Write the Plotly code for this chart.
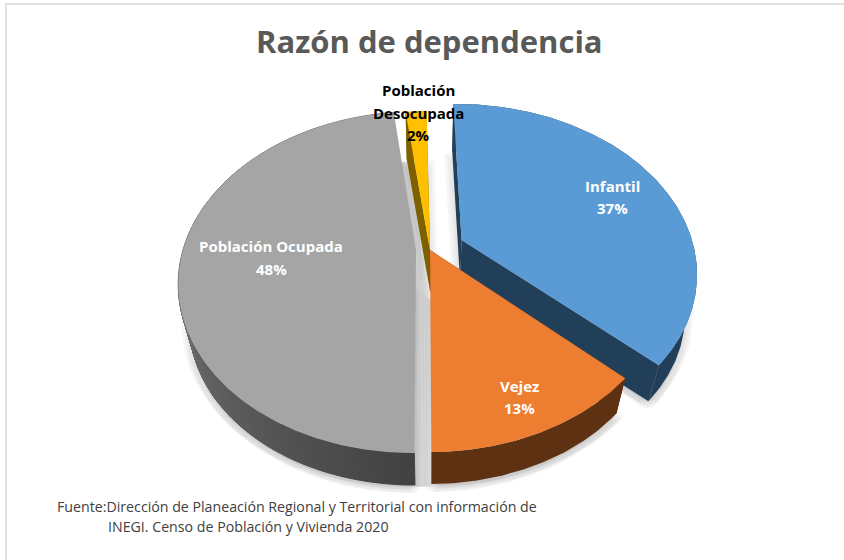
import math
import plotly.graph_objects as go

# Data (shares in %; printed labels are rounded)
categories = ["Infantil", "Vejez", "Población Ocupada", "Población Desocupada"]
values = [37.2, 13.0, 48.1, 1.7]
top_colors = ["#5B9BD5", "#ED7D31", "#A5A5A5", "#FFC000"]
wall_colors = ["#223F59", "#5F3113", "#404040", "#7F6000"]
pull = [0.15, 0.0, 0.06, 0.0]
title = "Razón de dependencia"
source_lines = ["Fuente:Dirección de Planeación Regional y Territorial con información de",
                "INEGI. Censo de Población y Vivienda 2020"]

# Projection of the disc
CX, CY, RX, RY, K = 430.0, 250.0, 233.0, 164.7, 0.185
ROT, Z, D = -1.0, 0.955, 41.0


def project(wx, wy, lower=False):
    s = 1.0 / (1.0 - K * wy)
    sx, sy = RX * wx * s, RY * wy * s
    if lower:
        return CX + sx * Z, CY + sy * Z + D
    return CX + sx, CY + sy


def sector_world(a0, a1, p):
    mid = math.radians((a0 + a1) / 2)
    ax, ay = p * math.sin(mid), -p * math.cos(mid)
    n = max(2, int(abs(a1 - a0)) * 2)
    pts = []
    for i in range(n + 1):
        t = math.radians(a0 + (a1 - a0) * i / n)
        pts.append((ax + math.sin(t), ay - math.cos(t)))
    return (ax, ay), pts


fig = go.Figure()


def poly(points, color, lw=0):
    xs = [q[0] for q in points] + [points[0][0]]
    ys = [q[1] for q in points] + [points[0][1]]
    fig.add_trace(go.Scatter(x=xs, y=ys, mode="lines", fill="toself", fillcolor=color,
                             line=dict(width=lw, color=color), hoverinfo="skip", showlegend=False))


def mix(c0, c1, t):
    return "rgb(" + ",".join(str(int(a + (b - a) * t)) for a, b in zip(c0, c1)) + ")"


sectors = []
angle = ROT
for v, p in zip(values, pull):
    a1 = angle + v * 3.6
    sectors.append(sector_world(angle, a1, p))
    angle = a1

# soft shadows
for idx, (apex, rim) in enumerate(sectors):
    low = [project(*apex, True)] + [project(*q, True) for q in rim]
    offs = [(-8, 2), (8, 2), (-5, 5), (5, 5), (-2, 8), (2, 8), (0, 3)]
    if idx == 2:
        offs += [(11, 2), (13, 2), (15, 2), (17, 2)]
    for dx, dy in offs:
        poly([(x + dx, y + dy) for x, y in low], "rgba(0,0,0,0.035)")

# bodies, back to front
for idx in [0, 3, 2, 1]:
    apex, rim = sectors[idx]
    wall = wall_colors[idx]
    if idx != 2:
        for q in (rim[0], rim[-1]):
            poly([project(*apex), project(*q), project(*q, True), project(*apex, True)], wall)
    if idx == 2:
        for i in range(len(rim) - 1):
            a, b = rim[i], rim[i + 1]
            t = i / (len(rim) - 2)
            col = mix((66, 66, 66), (130, 130, 130), min(1, t * 1.6))
            poly([project(*a), project(*b), project(*b, True), project(*a, True)], col, lw=1)
    else:
        poly([project(*q) for q in rim] + [project(*q, True) for q in reversed(rim)], wall)
    poly([project(*apex)] + [project(*q) for q in rim], top_colors[idx])

ann = []


def label(x, y, text, color, size, bold=True):
    ann.append(dict(x=x, y=y, xref="x", yref="y", text=f"<b>{text}</b>" if bold else text,
                    showarrow=False, xanchor="center", yanchor="middle",
                    font=dict(family="Open Sans", size=size, color=color)))


pct = [f"{round(v)}%" for v in values]
label(612, 186, categories[0], "white", 15)
label(612, 208, pct[0], "white", 15)
label(519, 386, categories[1], "white", 15)
label(519, 408, pct[1], "white", 15)
label(271, 246, categories[2], "white", 15)
label(271, 269, pct[2], "white", 15)
first, second = categories[3].split(" ")
label(418, 90, first, "black", 15)
label(418, 113, second, "black", 15)
label(418, 135, pct[3], "black", 15)
label(429, 41, title, "#595959", 31)
ann.append(dict(x=55, y=506, xref="x", yref="y", text=source_lines[0], showarrow=False, xanchor="left",
                font=dict(family="Open Sans", size=14.2, color="#404040")))
ann.append(dict(x=106, y=526, xref="x", yref="y", text=source_lines[1], showarrow=False, xanchor="left",
                font=dict(family="Open Sans", size=14.2, color="#404040")))

# Thin frame at the top and left of the picture
frame = [dict(type="line", xref="x", yref="y", x0=5, x1=844, y0=4, y1=4, line=dict(color="#E0E0E0", width=2)),
         dict(type="line", xref="x", yref="y", x0=6, x1=6, y0=3, y1=560, line=dict(color="#E0E0E0", width=2))]

fig.update_layout(width=844, height=560, margin=dict(l=0, r=0, t=0, b=0), paper_bgcolor="white",
                  plot_bgcolor="white", annotations=ann, shapes=frame, showlegend=False,
                  xaxis=dict(range=[0, 844], visible=False, fixedrange=True),
                  yaxis=dict(range=[560, 0], visible=False, fixedrange=True))
# Removes the page body's default margin, so the figure fills the window exactly
fig.write_html("out.html", config={"displayModeBar": False},
               post_script="document.body.style.margin='0';")
